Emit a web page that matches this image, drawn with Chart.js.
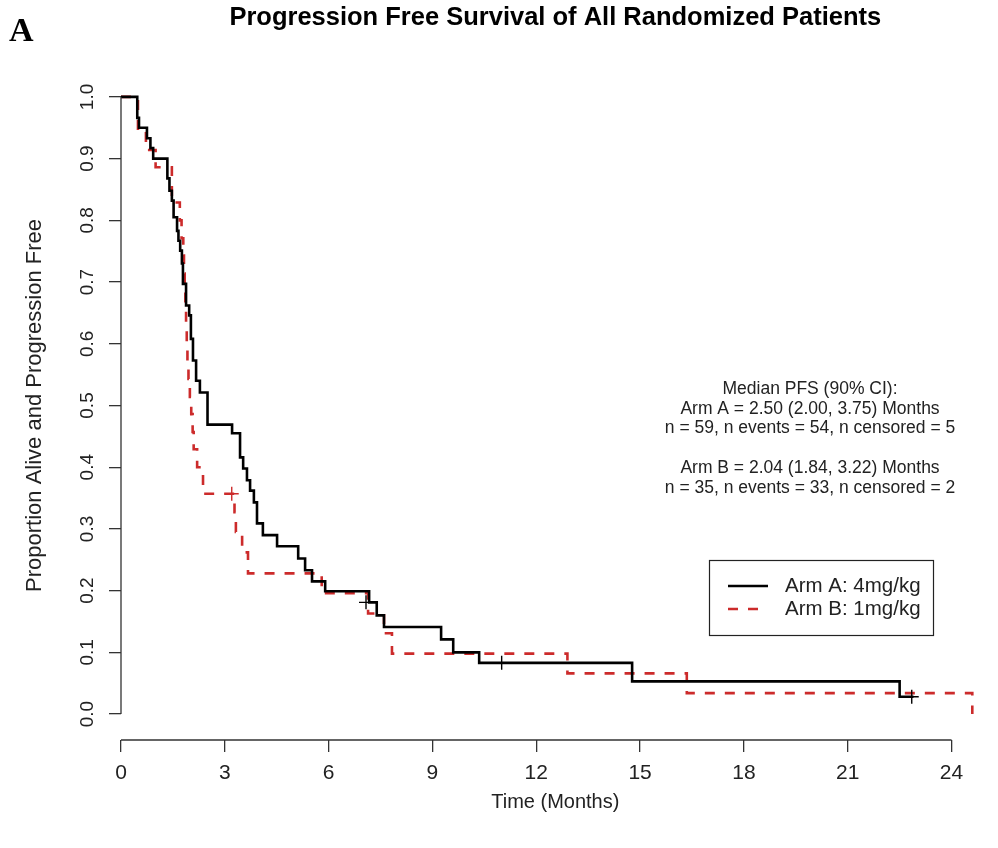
<!DOCTYPE html>
<html>
<head>
<meta charset="utf-8">
<script src="https://cdn.jsdelivr.net/npm/chart.js@4.4.0/dist/chart.umd.min.js"></script>
<style>
  html, body { margin: 0; padding: 0; background: #fff; }
  #wrap { width: 998px; height: 848px; }
</style>
</head>
<body>
<div id="wrap"><canvas id="chart" width="998" height="848"></canvas></div>
<script>
// Arm A (4mg/kg): time of each step (months) and survival after it
const armATime = [0, 0.47, 0.52, 0.75, 0.85, 0.93, 1.34, 1.40, 1.47, 1.52, 1.62, 1.66, 1.71, 1.76, 1.79,
  1.88, 1.97, 2.02, 2.08, 2.17, 2.28, 2.50, 3.21, 3.44, 3.53, 3.64, 3.73, 3.84, 3.93, 4.10, 4.51,
  5.12, 5.32, 5.52, 5.90, 7.17, 7.39, 7.60, 9.25, 9.60, 10.35, 14.77, 22.50, 22.90];
const armASurv = [1.0, 0.966, 0.950, 0.933, 0.917, 0.900, 0.868, 0.848, 0.832, 0.805, 0.783, 0.767, 0.751, 0.730, 0.697,
  0.662, 0.646, 0.608, 0.573, 0.540, 0.521, 0.469, 0.455, 0.416, 0.398, 0.379, 0.362, 0.343, 0.309, 0.290, 0.272,
  0.252, 0.233, 0.215, 0.199, 0.181, 0.160, 0.141, 0.121, 0.100, 0.083, 0.053, 0.028, 0.028];
const armACensorTime = [7.08, 11.0, 22.85];
const armACensorSurv = [0.181, 0.083, 0.028];

// Arm B (1mg/kg)
const armBTime = [0, 0.49, 0.72, 1.0, 1.47, 1.70, 1.75, 1.80, 1.82, 1.84, 1.86, 1.88, 1.90, 1.92, 1.95,
  1.99, 2.03, 2.07, 2.10, 2.20, 2.37, 3.28, 3.32, 3.50, 3.67, 5.80, 7.14, 7.60, 7.83, 12.90, 16.35, 24.60];
const armBSurv = [1.0, 0.943, 0.914, 0.886, 0.829, 0.800, 0.771, 0.743, 0.714, 0.686, 0.657, 0.629, 0.600, 0.571, 0.543,
  0.514, 0.486, 0.457, 0.429, 0.400, 0.357, 0.327, 0.295, 0.262, 0.228, 0.196, 0.163, 0.131, 0.098, 0.066, 0.034, 0.0];
const armBCensorTime = [3.20];
const armBCensorSurv = [0.357];

const xTicks = [0, 3, 6, 9, 12, 15, 18, 21, 24];
const yTicks = [0, 0.1, 0.2, 0.3, 0.4, 0.5, 0.6, 0.7, 0.8, 0.9, 1.0];
const legendLabels = ['Arm A: 4mg/kg', 'Arm B: 1mg/kg'];
const infoLines = [
  'Median PFS (90% CI):',
  'Arm A = 2.50 (2.00, 3.75) Months',
  'n = 59, n events = 54, n censored = 5',
  '',
  'Arm B = 2.04 (1.84, 3.22) Months',
  'n = 35, n events = 33, n censored = 2'
];

const SANS = '"Liberation Sans", Arial, sans-serif';
const RED = '#cc2b2b';

function toPoints(t, s) {
  return t.map((v, i) => ({ x: v, y: s[i] }));
}

// R-style extras: short axis lines, panel letter, the median text and legend box
const overlay = {
  id: 'overlay',
  afterDraw(chart) {
    const { ctx, chartArea, scales: { x, y } } = chart;
    ctx.save();
    ctx.strokeStyle = '#333';
    ctx.lineWidth = 1.3;
    ctx.beginPath();
    ctx.moveTo(x.getPixelForValue(xTicks[0]), chartArea.bottom);
    ctx.lineTo(x.getPixelForValue(xTicks[xTicks.length - 1]), chartArea.bottom);
    ctx.moveTo(chartArea.left, y.getPixelForValue(yTicks[0]));
    ctx.lineTo(chartArea.left, y.getPixelForValue(yTicks[yTicks.length - 1]));
    ctx.stroke();

    // panel letter
    ctx.fillStyle = '#000';
    ctx.font = 'bold 34px "Liberation Serif", "Times New Roman", serif';
    ctx.textAlign = 'left';
    ctx.textBaseline = 'middle';
    ctx.fillText('A', 9, 32);

    // median PFS text
    ctx.fillStyle = '#222';
    ctx.font = '17.5px ' + SANS;
    ctx.textAlign = 'center';
    const cx = x.getPixelForValue(19.91);
    let ty = y.getPixelForValue(0.527);
    infoLines.forEach(line => {
      if (line) ctx.fillText(line, cx, ty);
      ty += 19.9;
    });

    // legend box
    const bx = 709.5, by = 560.5, bw = 224, bh = 75;
    ctx.strokeStyle = '#222';
    ctx.lineWidth = 1.2;
    ctx.setLineDash([]);
    ctx.strokeRect(bx, by, bw, bh);
    ctx.font = '20.5px ' + SANS;
    ctx.textAlign = 'left';
    legendLabels.forEach((lab, i) => {
      const ds = chart.data.datasets[i];
      const ly = 586 + i * 23;
      ctx.strokeStyle = ds.borderColor;
      ctx.lineWidth = ds.borderWidth;
      ctx.setLineDash(ds.borderDash || []);
      ctx.beginPath();
      ctx.moveTo(728, ly);
      ctx.lineTo(768, ly);
      ctx.stroke();
      ctx.fillStyle = '#222';
      ctx.fillText(lab, 785, ly);
    });
    ctx.restore();
  }
};

const ctx = document.getElementById('chart').getContext('2d');
const chart = new Chart(ctx, {
  type: 'line',
  data: {
    datasets: [
      {
        label: legendLabels[0],
        data: toPoints(armATime, armASurv),
        borderColor: '#000',
        borderWidth: 2.6,
        stepped: 'before',
        pointRadius: 0,
        fill: false,
        order: 1
      },
      {
        label: legendLabels[1],
        data: toPoints(armBTime, armBSurv),
        borderColor: RED,
        borderWidth: 2.6,
        borderDash: [10, 10],
        stepped: 'before',
        pointRadius: 0,
        fill: false,
        order: 2
      },
      {
        label: 'Arm A censored',
        data: toPoints(armACensorTime, armACensorSurv),
        showLine: false,
        pointStyle: 'cross',
        pointRadius: 7,
        pointBorderWidth: 1.4,
        pointBorderColor: '#000',
        order: 0
      },
      {
        label: 'Arm B censored',
        data: toPoints(armBCensorTime, armBCensorSurv),
        showLine: false,
        pointStyle: 'cross',
        pointRadius: 7,
        pointBorderWidth: 1.4,
        pointBorderColor: RED,
        order: 0
      }
    ]
  },
  options: {
    responsive: false,
    animation: false,
    layout: { padding: { left: 0, right: 0, top: 0, bottom: 0 } },
    plugins: {
      legend: { display: false },
      tooltip: { enabled: false },
      title: {
        display: true,
        fullSize: false,
        text: 'Progression Free Survival of All Randomized Patients',
        color: '#000',
        font: { family: SANS, size: 25.5, weight: 'bold', lineHeight: 1.2 },
        padding: { top: 3, bottom: 37.4 }
      }
    },
    scales: {
      x: {
        type: 'linear',
        min: 0,
        max: 25.1,
        afterBuildTicks: s => { s.ticks = xTicks.map(v => ({ value: v })); },
        afterFit: s => { s.height = 108; },
        border: { display: false },
        grid: { drawOnChartArea: false, drawTicks: true, tickLength: 12, color: '#333', lineWidth: 1.3 },
        ticks: { autoSkip: false, maxRotation: 0, padding: 9, color: '#222', font: { family: SANS, size: 21 } },
        title: {
          display: true,
          text: 'Time (Months)',
          color: '#222',
          font: { family: SANS, size: 20 },
          padding: { top: 0, bottom: 34 }
        }
      },
      y: {
        type: 'linear',
        min: -0.042,
        max: 1.042,
        afterBuildTicks: s => { s.ticks = yTicks.map(v => ({ value: v })); },
        afterFit: s => { s.width = 121; },
        border: { display: false },
        grid: { drawOnChartArea: false, drawTicks: true, tickLength: 12, color: '#333', lineWidth: 1.3 },
        ticks: {
          minRotation: 90,
          maxRotation: 90,
          crossAlign: 'center',
          padding: 8,
          color: '#222',
          font: { family: SANS, size: 19 },
          callback: v => v.toFixed(1)
        },
        title: {
          display: true,
          text: 'Proportion Alive and Progression Free',
          color: '#222',
          font: { family: SANS, size: 22 },
          padding: { top: 22, bottom: 0 }
        }
      }
    }
  },
  plugins: [overlay]
});
</script>
</body>
</html>
